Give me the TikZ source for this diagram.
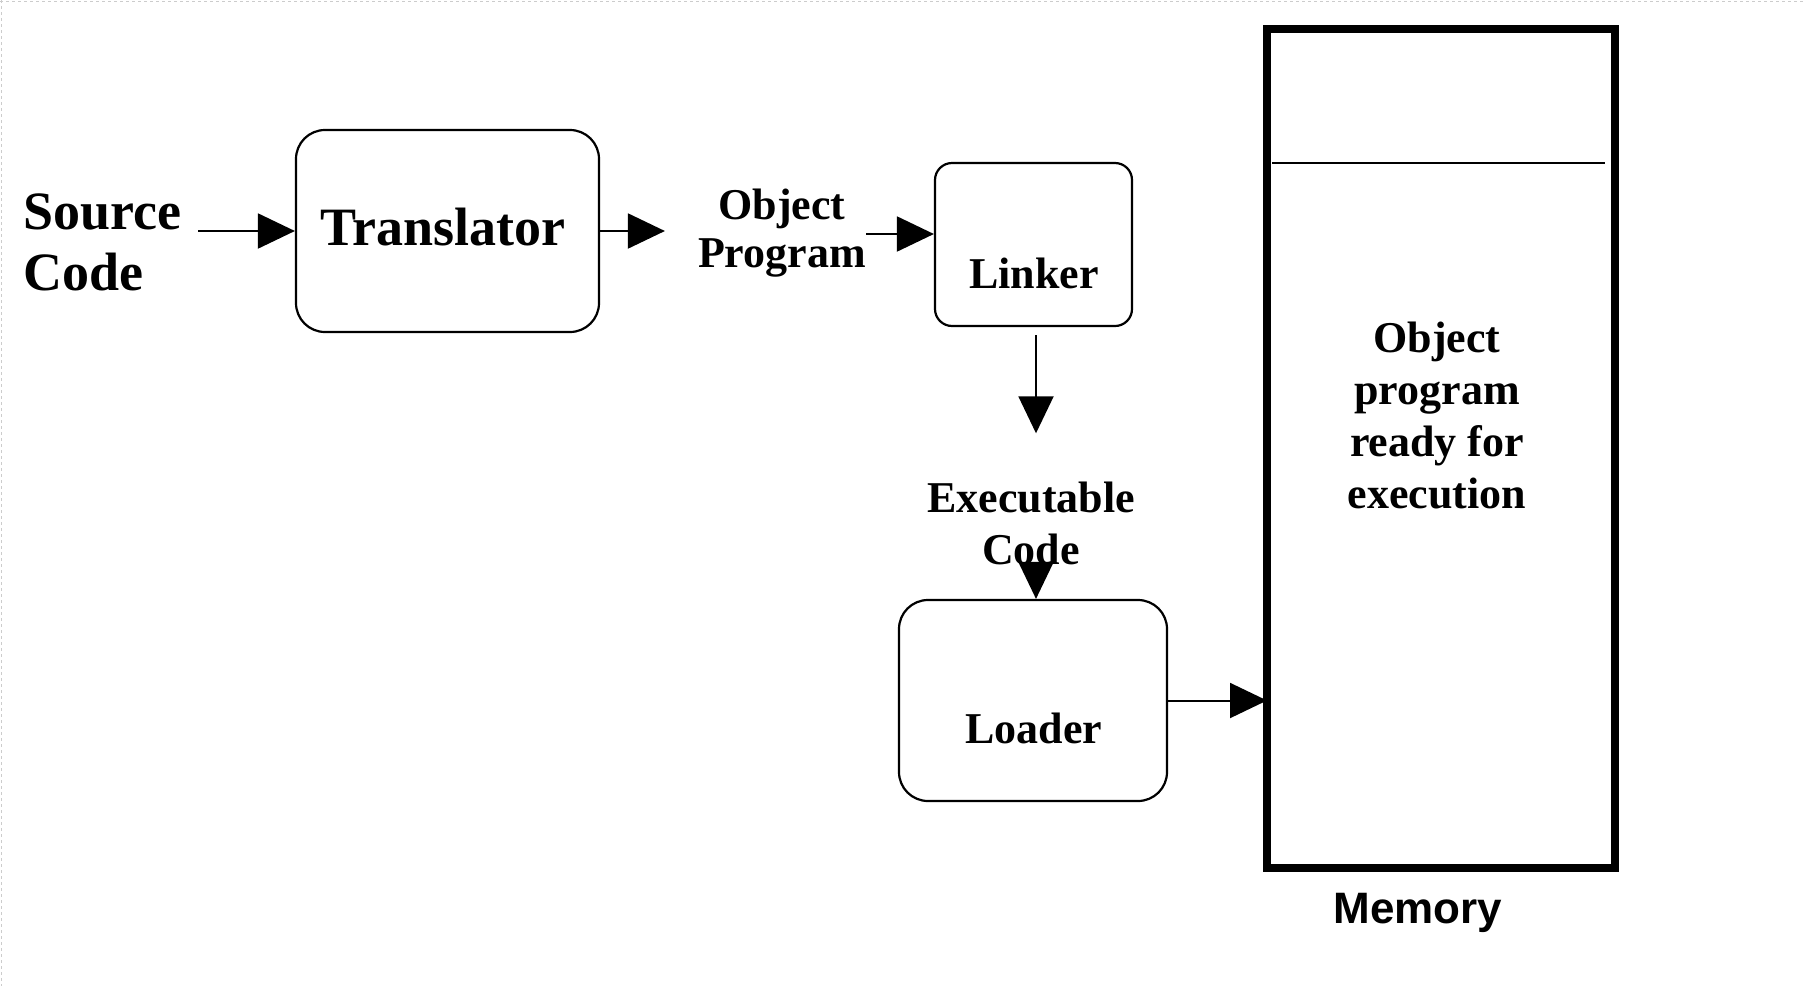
\documentclass[tikz,border=0pt]{standalone}
\usepackage{fontspec}
\setmainfont{Liberation Serif}
\newfontfamily\memsans{Liberation Sans}
\usetikzlibrary{arrows.meta,calc}
\tikzset{
  big/.style={font=\fontsize{54}{61}\selectfont\bfseries, inner sep=0pt},
  lbl/.style={font=\fontsize{44}{#1}\selectfont\bfseries, inner sep=0pt, align=center},
  lbl/.default=48,
  proc/.style={draw, line width=2.2pt, rounded corners=#1, inner sep=0pt},
  proc/.default=29pt,
  flow/.style={line width=2pt, -{Triangle[length=37pt,width=35pt]}},
  mem/.style={draw, line width=7.5pt, inner sep=0pt, outer sep=0pt},
}
\begin{document}
\begin{tikzpicture}[x=1pt,y=-1pt]
\useasboundingbox (0,0) rectangle (1805,986);
% faint page edge
\draw[black!20, line width=1.5pt, dash pattern=on 3pt off 3pt] (0,1.5) -- (1805,1.5);
\draw[black!20, line width=1.5pt, dash pattern=on 3pt off 3pt] (1.5,0) -- (1.5,986);

% source text (base anchor sits on the last line)
\node[big, align=left, anchor=base west] (src) at (23,290) {Source\\Code};

% translator
\node[proc, minimum width=303pt, minimum height=202pt] (trans) at (447.5,231) {};
\node[big, anchor=base] (transtxt) at (443,245) {Translator};

% object program
\node[lbl, anchor=base] (objp) at (782,267) {Object\\Program};

% linker
\node[proc=17pt, minimum width=197pt, minimum height=163pt] (link) at (1033.5,244.5) {};
\node[lbl, anchor=base] (linktxt) at (1034,288) {Linker};

% executable code
\node[lbl=52, anchor=base] (exe) at (1031,564) {Executable\\Code};

% loader
\node[proc, minimum width=268pt, minimum height=201pt] (load) at (1033,700.5) {};
\node[lbl, anchor=base] (loadtxt) at (1034,743) {Loader};

% memory
\node[mem, minimum width=348pt, minimum height=839pt] (mem) at (1441,448.5) {};
\draw[line width=2.5pt] ($(mem.north west)+(5,134)$) -- ($(mem.north east)+(-10,134)$);
\node[lbl=52, anchor=base] (memtxt) at (1437,508) {Object\\program\\ready for\\execution};
\node[font=\memsans\fontsize{44}{48}\selectfont\bfseries, inner sep=0pt, anchor=base] (memlbl) at (1418,923) {Memory};

% flow arrows
\coordinate (lin) at ([yshift=10.5pt]link.west);
\draw[flow, shorten <=17pt] (src.east |- trans.west) -- (trans.west);
\draw[flow, shorten >=33pt] (trans.east) -- (objp.west |- trans.east);
\draw[flow] (objp.east |- lin) -- (lin);
\draw[flow, shorten <=8pt, shorten >=48pt] ([xshift=2.5pt]link.south) -- ([xshift=2.5pt]link.south |- exe.north);
\draw[flow] ([xshift=3pt]load.north |- exe.south) -- ([xshift=3pt]load.north);
\draw[flow] (load.east) -- (mem.west |- load.east);
\end{tikzpicture}
\end{document}
